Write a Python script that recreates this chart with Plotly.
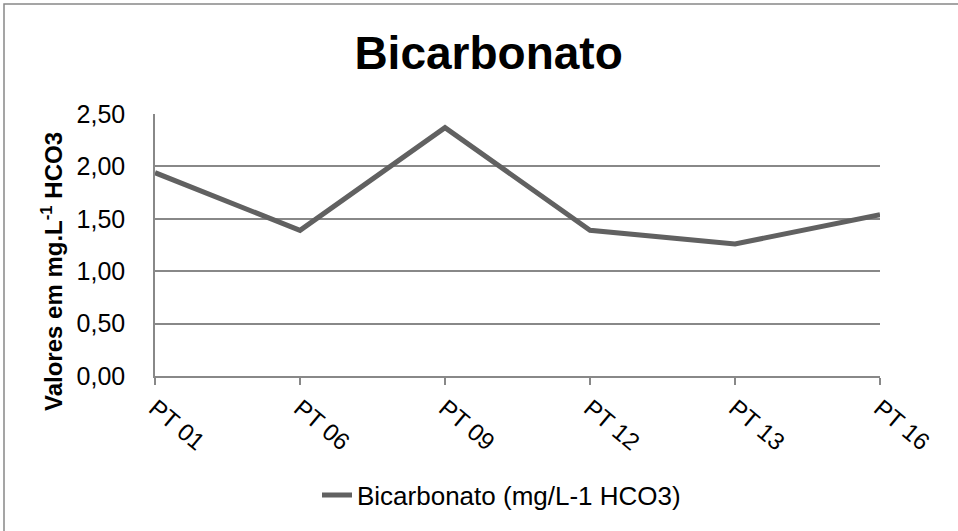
import plotly.graph_objects as go

categories = ["PT 01", "PT 06", "PT 09", "PT 12", "PT 13", "PT 16"]
values = [1.94, 1.39, 2.37, 1.39, 1.26, 1.54]
series_name = "Bicarbonato (mg/L-1 HCO3)"
y_ticks = [0, 0.5, 1.0, 1.5, 2.0, 2.5]
y_ticklabels = ["0,00", "0,50", "1,00", "1,50", "2,00", "2,50"]

W, H = 958, 531
L, R, T, B = 155, 78, 114, 155
PW, PH = W - L - R, H - T - B

fig = go.Figure()
fig.add_trace(go.Scatter(
    x=categories, y=values, mode="lines", name=series_name,
    line=dict(color="#616161", width=5),
))

font = "Liberation Sans, Arial, sans-serif"
fig.update_layout(
    width=W, height=H,
    margin=dict(l=L, r=R, t=T, b=B),
    paper_bgcolor="white", plot_bgcolor="white",
    font=dict(family=font, size=26, color="black"),
    title=dict(text="<b>Bicarbonato</b>", x=0.51, xanchor="center",
               y=1 - 53/H, yanchor="middle",
               font=dict(size=46, family=font, color="black")),
    showlegend=True,
    legend=dict(orientation="h", x=(317 - L)/PW, xanchor="left",
                y=-(495 - (H - B))/PH, yanchor="middle",
                font=dict(size=26), traceorder="normal"),
    xaxis=dict(type="category", range=[0, 5], showgrid=False,
               showline=True, linecolor="#888888", linewidth=1.5,
               ticks="outside", ticklen=7, tickcolor="#888888", tickwidth=1.5,
               tickangle=40, tickfont=dict(size=24)),
    yaxis=dict(range=[0, 2.5], tickvals=y_ticks, ticktext=y_ticklabels,
               showgrid=True, gridcolor="#888888", gridwidth=1.5,
               showline=True, linecolor="#888888", linewidth=1.5,
               zeroline=False, ticks="", ticklabelstandoff=23,
               tickfont=dict(size=25)),
    annotations=[dict(text="<b>Valores em mg.L<sup>-1</sup> HCO3</b>",
                      xref="paper", yref="paper",
                      x=(52 - L)/PW, y=((H - B) - 272)/PH,
                      xanchor="center", yanchor="middle",
                      textangle=-90, showarrow=False,
                      font=dict(size=24, family=font, color="black"))],
    shapes=[dict(type="rect", xref="paper", yref="paper",
                 x0=(4 - L)/PW, x1=(W + 20 - L)/PW,
                 y0=-(H + 20 - (H - B))/PH, y1=((H - B) - 4)/PH,
                 line=dict(color="#888888", width=1.5), layer="below")],
)

fig.write_html("out.html")
